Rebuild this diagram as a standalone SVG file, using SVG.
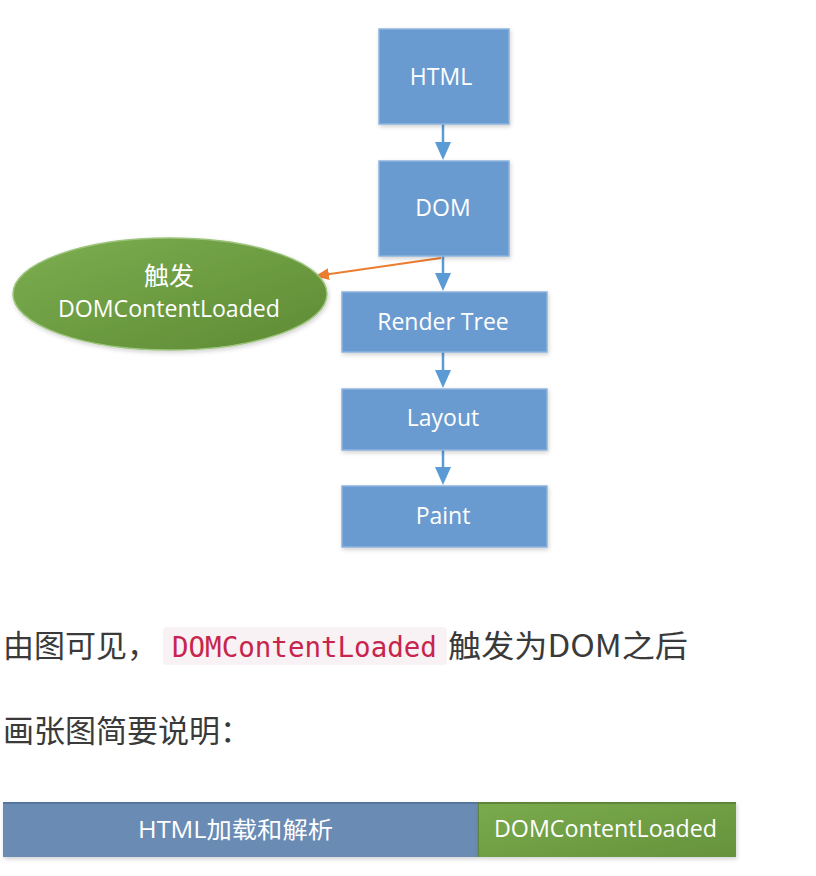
<svg xmlns="http://www.w3.org/2000/svg" width="816" height="876" viewBox="0 0 816 876">
<defs>
<style>
.box{fill:#6a9bd0;stroke:#8db4df;stroke-width:1.5;filter:url(#sh)}
.bt{font-family:"Open Sans","Liberation Sans",sans-serif;font-size:23px;fill:#ffffff;text-anchor:middle}
.et{font-family:"Open Sans","Noto Sans CJK SC",sans-serif;font-size:23px;fill:#ffffff;text-anchor:middle}
.cj{font-family:"Noto Sans CJK SC",sans-serif;font-size:25px;fill:#ffffff;text-anchor:middle}
.body{font-family:"Noto Sans CJK SC","Noto Sans",sans-serif;font-size:31px;fill:#3a3a3a}
.code{font-family:"DejaVu Sans Mono","Liberation Mono",monospace;font-size:27.5px;fill:#c7254e}
.ba{stroke:#5b9bd5;stroke-width:2.5;fill:none}
</style>
<filter id="sh" x="-10%" y="-10%" width="125%" height="130%">
<feDropShadow dx="1" dy="2" stdDeviation="2" flood-color="#000" flood-opacity="0.18"/>
</filter>
<linearGradient id="gg" x1="0" y1="0" x2="1" y2="1">
<stop offset="0" stop-color="#7cae50"/>
<stop offset="1" stop-color="#5e8a34"/>
</linearGradient>
<linearGradient id="gb" x1="0" y1="0" x2="1" y2="1">
<stop offset="0" stop-color="#7aab4d"/>
<stop offset="1" stop-color="#66923c"/>
</linearGradient>
<marker id="ao" markerWidth="14" markerHeight="12" refX="13" refY="6" orient="auto" markerUnits="userSpaceOnUse">
<path d="M0,0 L14,6 L0,12 z" fill="#ed7d31"/>
</marker>
</defs>
<rect width="816" height="876" fill="#ffffff"/>

<g id="connectors">
<line x1="443" y1="124" x2="443" y2="145" class="ba"/>
<path d="M435,142 L451,142 L443,160 z" fill="#5b9bd5"/>
<line x1="443" y1="256" x2="443" y2="276" class="ba"/>
<path d="M435,273 L451,273 L443,291 z" fill="#5b9bd5"/>
<line x1="443" y1="352" x2="443" y2="373" class="ba"/>
<path d="M435,370 L451,370 L443,388 z" fill="#5b9bd5"/>
<line x1="443" y1="450" x2="443" y2="470" class="ba"/>
<path d="M435,467 L451,467 L443,485 z" fill="#5b9bd5"/>
<line x1="441" y1="258" x2="316" y2="276" stroke="#ed7d31" stroke-width="2" marker-end="url(#ao)"/>
</g>

<g id="html">
<rect class="box" x="379" y="29" width="130" height="95"/>
<text class="bt" x="441" y="85">HTML</text>
</g>
<g id="dom">
<rect class="box" x="379" y="161" width="130" height="95"/>
<text class="bt" x="443" y="216">DOM</text>
</g>
<g id="render-tree">
<rect class="box" x="342" y="292" width="205" height="60"/>
<text class="bt" x="443" y="330">Render Tree</text>
</g>
<g id="layout">
<rect class="box" x="342" y="389" width="205" height="61"/>
<text class="bt" x="443" y="426">Layout</text>
</g>
<g id="paint">
<rect class="box" x="342" y="486" width="205" height="61"/>
<text class="bt" x="443" y="524">Paint</text>
</g>
<g id="dcl-event">
<ellipse cx="170" cy="294" rx="157" ry="56" fill="url(#gg)" stroke="#9cc47a" stroke-width="1.5" filter="url(#sh)"/>
<text class="cj" x="169" y="285">触发</text>
<text class="et" x="169" y="317" textLength="222" lengthAdjust="spacingAndGlyphs">DOMContentLoaded</text>
</g>

<g id="text">
<text class="body" x="3" y="657">由图可见，</text>
<rect x="163" y="627" width="284" height="38" rx="4" fill="#f9f2f4"/>
<text class="code" x="172" y="657">DOMContentLoaded</text>
<text class="body" x="448" y="657" textLength="240" lengthAdjust="spacingAndGlyphs">触发为DOM之后</text>
<text class="body" x="3" y="742">画张图简要说明：</text>
</g>

<g id="timeline">
<g id="bar-html" filter="url(#sh)">
<rect x="3" y="802" width="475" height="55" fill="#6b8bb4"/>
<line x1="3" y1="803" x2="478" y2="803" stroke="#56769f" stroke-width="2"/>
</g>
<text class="et" x="138" y="838" text-anchor="start" textLength="195" lengthAdjust="spacingAndGlyphs" style="text-anchor:start">HTML加载和解析</text>
<g id="bar-dcl" filter="url(#sh)">
<rect x="478" y="802" width="258" height="55" fill="url(#gb)"/>
<line x1="478" y1="803" x2="736" y2="803" stroke="#5d863a" stroke-width="2"/>
<line x1="478.5" y1="802" x2="478.5" y2="857" stroke="#5d863a" stroke-width="1"/>
</g>
<text class="et" x="494" y="837" textLength="223" lengthAdjust="spacingAndGlyphs" style="text-anchor:start">DOMContentLoaded</text>
</g>
</svg>
